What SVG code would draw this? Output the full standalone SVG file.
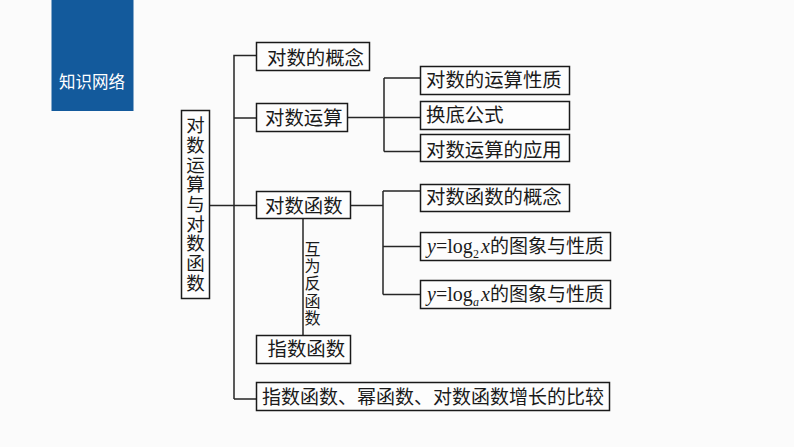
<svg xmlns="http://www.w3.org/2000/svg" width="794" height="447" viewBox="0 0 794 447">
<style>
.b{fill:#fdfdfd;stroke:#1a1a1a;stroke-width:1.5}
.c{fill:none;stroke:#262626;stroke-width:1.5}
text{font-family:"Noto Sans CJK SC","Liberation Serif",serif;font-size:19.400px;fill:#1a1a1a}
.l{font-family:"Liberation Serif",serif;font-size:20px}
.s{font-family:"Liberation Serif",serif;font-size:12px}
.i{font-style:italic}
.v{writing-mode:vertical-rl;font-size:18.500px;letter-spacing:1.200px}
.w{writing-mode:vertical-rl;font-size:16px;letter-spacing:1.200px}
.p{font-size:19px}
</style>
<rect width="794" height="447" fill="#fbfbfb"/>
<g id="banner"><rect x="51.500" y="0" width="82" height="111" fill="#135a9c"/><text x="59" y="88" style="font-size:16.500px;fill:#fff">知识网络</text></g>
<g id="connectors" class="c">
<path d="M209 205.500H256M234 399H256M234 399V55.500H256M234 118H256"/>
<path d="M347 117.500H420M384 78H420M384 151.500H420M384 78V151.500"/>
<path d="M350 205.500H383M383 191H420M383 246.500H420M383 294.500H420M383 191V294.500"/>
<path d="M303 218V335"/>
</g>
<g id="root"><rect class="b" x="181.500" y="110.500" width="28" height="188"/>
<text class="v" x="195.500" y="116">对数运算与对数函数</text></g>
<g id="n1"><rect class="b" x="256.500" y="42.500" width="113" height="28"/><text x="267" y="65">对数的概念</text></g>
<g id="n2"><rect class="b" x="256.500" y="103.500" width="91" height="28"/><text x="265" y="124.500">对数运算</text></g>
<g id="n3"><rect class="b" x="256.500" y="191.500" width="94" height="27"/><text x="265" y="212.500">对数函数</text></g>
<g id="n4"><rect class="b" x="256.500" y="335.500" width="94" height="28"/><text x="267.500" y="355.500">指数函数</text></g>
<g id="n5"><rect class="b" x="256.500" y="382.500" width="353" height="28"/><text class="p" x="262" y="404">指数函数、幂函数、对数函数增长的比较</text></g>
<g id="r1"><rect class="b" x="420.500" y="66.500" width="149" height="28"/><text x="426" y="86.500">对数的运算性质</text></g>
<g id="r2"><rect class="b" x="420.500" y="101.500" width="149" height="28"/><text x="426" y="122">换底公式</text></g>
<g id="r3"><rect class="b" x="420.500" y="134.500" width="149" height="27"/><text x="426" y="157">对数运算的应用</text></g>
<g id="r4"><rect class="b" x="420.500" y="184.500" width="149" height="27"/><text x="426" y="204">对数函数的概念</text></g>
<g id="r5"><rect class="b" x="420.500" y="232.500" width="190" height="28"/><text class="p" y="252.500"><tspan class="l i" x="427">y</tspan><tspan class="l">=log</tspan><tspan class="s" x="473" dy="5">2</tspan><tspan class="l i" x="481" dy="-5">x</tspan><tspan class="p" x="490">的图象与性质</tspan></text></g>
<g id="r6"><rect class="b" x="420.500" y="280.500" width="190" height="28"/><text class="p" y="300.500"><tspan class="l i" x="427">y</tspan><tspan class="l">=log</tspan><tspan class="s i" x="473" dy="5">a</tspan><tspan class="l i" x="481" dy="-5">x</tspan><tspan class="p" x="490">的图象与性质</tspan></text></g>
<g id="label"><text class="w" x="312.500" y="241">互为反函数</text></g>
</svg>
